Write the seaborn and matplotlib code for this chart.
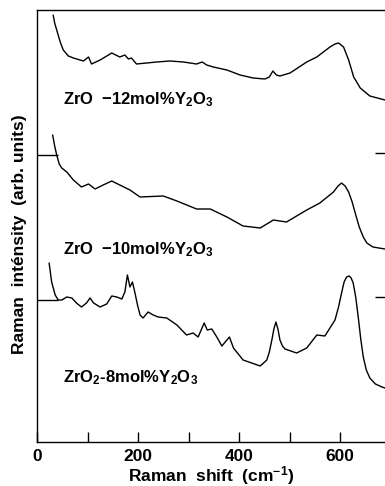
import numpy as np
import pandas as pd
import matplotlib
matplotlib.use('Agg')
import matplotlib.pyplot as plt
import seaborn as sns

# Raman shift (cm-1) / intensity (arb. units)
shift_12 = [32, 35, 39, 46, 52, 62, 72, 92, 102, 108, 125, 148, 164, 174, 181, 187, 197, 217,
            237, 263, 290, 316, 327, 336, 349, 376, 402, 428, 451, 460, 467, 474, 481, 501,
            534, 554, 580, 590, 597, 607, 617, 627, 640, 659, 689]
int_12 = [42.7, 41.9, 41.2, 40.0, 39.2, 38.6, 38.4, 38.1, 38.5, 37.8, 38.2, 38.9, 38.5, 38.7,
          38.3, 38.4, 37.8, 37.9, 38.0, 38.1, 38.0, 37.8, 38.0, 37.7, 37.5, 37.2, 36.7, 36.4,
          36.3, 36.5, 37.1, 36.7, 36.6, 36.9, 38.0, 38.5, 39.5, 39.8, 39.9, 39.5, 38.2, 36.5,
          35.4, 34.6, 34.2]

shift_10 = [31, 35, 39, 44, 49, 59, 72, 88, 102, 115, 131, 148, 164, 184, 204, 250, 277, 316,
            343, 376, 408, 442, 468, 494, 534, 560, 587, 596, 603, 610, 617, 624, 630, 638,
            646, 653, 665, 689]
int_10 = [30.7, 29.6, 28.7, 27.8, 27.4, 27.0, 26.2, 25.5, 25.8, 25.3, 25.7, 26.1, 25.7, 25.2,
          24.5, 24.6, 24.1, 23.3, 23.3, 22.5, 21.6, 21.4, 22.2, 22.0, 23.2, 23.9, 25.0, 25.6,
          25.9, 25.6, 25.0, 24.0, 22.9, 21.5, 20.5, 19.9, 19.5, 19.3]

shift_8 = [24, 29, 36, 42, 49, 59, 69, 78, 88, 98, 105, 112, 125, 138, 148, 158, 168, 174,
           179, 184, 189, 194, 199, 204, 210, 220, 230, 240, 257, 277, 296, 309, 319, 331,
           337, 346, 356, 366, 381, 389, 408, 442, 455, 460, 465, 469, 473, 477, 481, 486,
           491, 514, 534, 554, 570, 590, 597, 603, 608, 613, 618, 622, 626, 631, 636, 641,
           646, 652, 659, 670, 683, 689]
int_8 = [17.9, 16.0, 14.7, 14.2, 14.2, 14.5, 14.4, 13.9, 13.5, 13.9, 14.4, 13.9, 13.5, 13.8,
         14.6, 14.5, 14.3, 15.0, 16.7, 15.5, 16.0, 14.9, 13.7, 12.7, 12.4, 13.0, 12.7, 12.5,
         12.4, 11.7, 10.7, 10.9, 10.5, 11.9, 11.2, 11.3, 10.5, 9.6, 10.5, 9.4, 8.2, 7.6, 8.2,
         9.0, 10.2, 11.3, 12.0, 11.3, 10.2, 9.6, 9.3, 8.9, 9.4, 10.7, 10.6, 12.2, 13.5, 14.9,
         16.0, 16.5, 16.6, 16.4, 15.9, 14.5, 12.5, 10.3, 8.5, 7.2, 6.4, 5.8, 5.5, 5.4]

labels = [r'ZrO  $-$12mol%Y$_2$O$_3$', r'ZrO  $-$10mol%Y$_2$O$_3$', r'ZrO$_2$-8mol%Y$_2$O$_3$']
label_y = [34.2, 19.2, 6.4]

x_ticks = [0, 100, 200, 300, 400, 500, 600]
x_ticklabels = ['0', '', '200', '', '400', '', '600']

sns.set_style('ticks')
plt.rcParams['font.family'] = ['Liberation Sans', 'DejaVu Sans']
plt.rcParams['font.weight'] = 'bold'
plt.rcParams['mathtext.fontset'] = 'custom'
plt.rcParams['mathtext.rm'] = 'Liberation Sans:bold'
plt.rcParams['mathtext.bf'] = 'Liberation Sans:bold'
plt.rcParams['mathtext.default'] = 'rm'
for k in ['text.color', 'axes.labelcolor', 'xtick.color', 'ytick.color', 'axes.edgecolor']:
    plt.rcParams[k] = 'black'

fig = plt.figure(figsize=(3.85, 4.86), dpi=100)
ax = fig.add_axes([37 / 385, 44 / 486, 348 / 385, 432 / 486])

for sx, sy in [(shift_12, int_12), (shift_10, int_10), (shift_8, int_8)]:
    df = pd.DataFrame({'shift': sx, 'intensity': sy})
    sns.lineplot(data=df, x='shift', y='intensity', color='black', lw=1.0, sort=False, ax=ax)

for txt, yy in zip(labels, label_y):
    ax.text(51, yy, txt, fontsize=12, fontweight='bold', va='center', ha='left', color='black')

ax.set_xlim(0, 689)
ax.set_ylim(0, 43.2)
ax.set_xticks(x_ticks)
ax.set_xticklabels(x_ticklabels, fontsize=12.5, fontweight='bold')
ax.tick_params(axis='x', direction='in', length=7, width=1, pad=5, colors='black')

ax.set_yticks([14.2, 28.7])
ax.set_yticklabels([])
ax.set_yticks([14.5, 28.9], minor=True)
ax.tick_params(axis='y', which='major', direction='in', left=True, right=False, length=15, width=1)
ax.tick_params(axis='y', which='minor', direction='in', left=False, right=True, length=7, width=1)

for s in ['left', 'bottom', 'top']:
    ax.spines[s].set_visible(True)
    ax.spines[s].set_linewidth(1.0)
    ax.spines[s].set_color('black')
ax.spines['right'].set_visible(False)

ax.set_xlabel(r'Raman  shift  (cm$^{-1}$)', fontsize=12.5, fontweight='bold', labelpad=0)
ax.set_ylabel('Raman  inténsity  (arb. units)', fontsize=12.5, fontweight='bold')
ax.yaxis.set_label_coords(-0.03, 0.48)

fig.savefig('out.png', dpi=100)
